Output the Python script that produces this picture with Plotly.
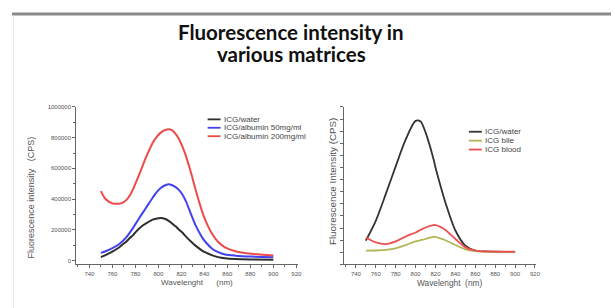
import plotly.graph_objects as go

# ---------------- data ----------------
# Left chart: ICG in water / albumin (CPS)
wl_left = [750, 754, 760, 766, 769, 772, 775, 778, 780, 785, 789, 795, 798, 802, 806, 809, 812, 815, 818, 821, 824, 829, 832, 838, 841, 847, 852, 858, 867, 881, 900]
water_left = [21500, 35000, 58000, 86000, 105000, 122000, 145000, 165000, 183000, 220000, 240000, 266000, 272000, 276000, 270000, 258000, 240000, 222000, 200000, 180000, 155000, 118000, 98000, 64500, 52000, 33000, 21500, 14000, 9000, 6000, 4000]
alb50_left = [49500, 60000, 80000, 107500, 127000, 150000, 180000, 212000, 236500, 295000, 340000, 408600, 440000, 472000, 490000, 497000, 490000, 478000, 458000, 428000, 385000, 290000, 235000, 150500, 120000, 75000, 53800, 38700, 31000, 25000, 21500]
alb200_left = [451600, 400000, 372000, 370000, 377000, 393000, 422000, 465000, 500000, 592000, 668000, 765000, 800000, 833000, 850000, 855000, 848000, 825000, 790000, 740000, 680000, 555000, 470000, 320000, 260000, 170000, 120000, 85000, 60000, 43000, 32000]
names_left = ["ICG/water", "ICG/albumin 50mg/ml", "ICG/albumin 200mg/ml"]
colors_left = ["#2e2e2e", "#4242ee", "#ee4a4a"]

# Right chart: ICG in water / bile / blood (arbitrary units, no tick labels)
wl_right = [750, 760, 770, 780, 790, 800, 805, 810, 818, 820, 825, 830, 840, 850, 860, 870, 880, 890, 900]
water_right = [0.96, 2.6, 4.8, 7.1, 9.3, 10.85, 10.8, 9.9, 7.7, 7.0, 5.5, 4.1, 1.8, 0.55, 0.15, 0.07, 0.05, 0.04, 0.04]
bile_right = [0.14, 0.15, 0.2, 0.33, 0.6, 0.9, 1.0, 1.1, 1.28, 1.28, 1.15, 1.0, 0.6, 0.25, 0.1, 0.05, 0.05, 0.04, 0.04]
blood_right = [1.22, 0.82, 0.68, 0.9, 1.3, 1.64, 1.85, 2.05, 2.25, 2.25, 2.1, 1.84, 1.1, 0.41, 0.14, 0.07, 0.06, 0.05, 0.05]
names_right = ["ICG/water", "ICG bile", "ICG blood"]
colors_right = ["#333333", "#b4b45a", "#ee5050"]

x_ticks = [740, 760, 780, 800, 820, 840, 860, 880, 900, 920]
y_ticks_left = [0, 200000, 400000, 600000, 800000, 1000000]

title_lines = ["Fluorescence intensity in", "various matrices"]

# ---------------- figure ----------------
W, H = 615, 308
fig = go.Figure()

for ys, name, col in zip([water_left, alb50_left, alb200_left], names_left, colors_left):
    fig.add_trace(go.Scatter(x=wl_left, y=ys, name=name, mode="lines",
                             line=dict(color=col, width=2, shape="spline", smoothing=0.8),
                             xaxis="x", yaxis="y", showlegend=False))
for ys, name, col in zip([water_right, bile_right, blood_right], names_right, colors_right):
    fig.add_trace(go.Scatter(x=wl_right, y=ys, name=name, mode="lines",
                             line=dict(color=col, width=1.8, shape="spline", smoothing=0.8),
                             xaxis="x2", yaxis="y2", showlegend=False))

def px_x(v):
    return v / W

def px_y(v):
    return 1 - v / H

axis_col = "#666666"
tick_font = dict(family="Liberation Sans, Arial, sans-serif", size=6, color="#555555")

xcommon = dict(range=[728.5, 921.5], tickvals=x_ticks, ticks="outside", ticklen=3,
               tickcolor=axis_col, showline=True, linecolor=axis_col, linewidth=1,
               showgrid=False, zeroline=False, tickfont=tick_font,
               minor=dict(dtick=10, tick0=730, ticks="outside", ticklen=2, tickcolor=axis_col))

fig.update_layout(
    width=W, height=H,
    margin=dict(l=0, r=0, t=0, b=0),
    paper_bgcolor="white", plot_bgcolor="white",
    xaxis=dict(domain=[px_x(76.7), px_x(300)], anchor="y", **xcommon),
    yaxis=dict(domain=[px_y(264), px_y(105)], anchor="x", range=[-26000, 1000000],
               tickvals=y_ticks_left, tickformat="d", ticks="outside", ticklen=3,
               tickcolor=axis_col, showline=True, linecolor=axis_col, linewidth=1,
               showgrid=False, zeroline=False, tickfont=tick_font,
               minor=dict(dtick=100000, ticks="outside", ticklen=2, tickcolor=axis_col)),
    xaxis2=dict(domain=[px_x(346.7), px_x(540)], anchor="y2", **xcommon),
    yaxis2=dict(domain=[px_y(264), px_y(105)], anchor="x2", range=[-1, 12],
                dtick=1, tick0=0, showticklabels=False, ticks="outside", ticklen=3,
                tickcolor=axis_col, showline=True, linecolor=axis_col, linewidth=1,
                showgrid=False, zeroline=False),
)

shapes = []
annotations = []

# slide decorations: top gray rule and faint left border
shapes.append(dict(type="rect", xref="paper", yref="paper", x0=px_x(12), x1=1,
                   y0=px_y(12.5), y1=px_y(9.5), fillcolor="#8a8a8a", line=dict(width=0)))
shapes.append(dict(type="line", xref="paper", yref="paper", x0=px_x(13.5), x1=px_x(13.5),
                   y0=0, y1=px_y(12.5), line=dict(color="#e4e4e4", width=1)))

# title (two lines)
title_font = dict(family="Lato, Open Sans, sans-serif", size=20.5, color="#111111")
for line_txt, yc in zip(title_lines, [29, 51]):
    annotations.append(dict(text="<b>" + line_txt + "</b>", xref="paper", yref="paper",
                            x=px_x(293), y=px_y(yc), xanchor="center", yanchor="middle",
                            showarrow=False, font=title_font))

# axis titles
ax_font = dict(family="Liberation Sans, Arial, sans-serif", size=8, color="#555555")
annotations.append(dict(text="Fluorescence intensity   (CPS)", xref="paper", yref="paper",
                        x=px_x(31.5), y=px_y(196), textangle=-90, showarrow=False,
                        xanchor="center", yanchor="middle",
                        font=dict(family="Liberation Sans, Arial, sans-serif", size=9, color="#555555")))
annotations.append(dict(text="Wavelenght      (nm)", xref="paper", yref="paper",
                        x=px_x(198), y=px_y(282), showarrow=False,
                        xanchor="center", yanchor="middle", font=ax_font))
annotations.append(dict(text="Fluorescence Intensity (CPS)", xref="paper", yref="paper",
                        x=px_x(334), y=px_y(180), textangle=-90, showarrow=False,
                        xanchor="center", yanchor="middle",
                        font=dict(family="Liberation Sans, Arial, sans-serif", size=9.8, color="#555555")))
annotations.append(dict(text="Wavelenght  (nm)", xref="paper", yref="paper",
                        x=px_x(452.5), y=px_y(283), showarrow=False,
                        xanchor="center", yanchor="middle",
                        font=dict(family="Liberation Sans, Arial, sans-serif", size=8.3, color="#555555")))

# custom legends
leg_font = dict(family="Liberation Sans, Arial, sans-serif", size=8, color="#444444")
def add_legend(names, colors, x_line0, x_line1, x_text, y_rows):
    for nm, col, yy in zip(names, colors, y_rows):
        shapes.append(dict(type="line", xref="paper", yref="paper",
                           x0=px_x(x_line0), x1=px_x(x_line1), y0=px_y(yy), y1=px_y(yy),
                           line=dict(color=col, width=1.8)))
        annotations.append(dict(text=nm, xref="paper", yref="paper", x=px_x(x_text), y=px_y(yy),
                                xanchor="left", yanchor="middle", showarrow=False, font=leg_font))

add_legend(names_left, colors_left, 209, 222, 223.5, [117.5, 126, 134.5])
add_legend(names_right, colors_right, 472, 485, 486.5, [130, 139, 148])

fig.update_layout(shapes=shapes, annotations=annotations)

fig.write_html("out.html", config={"displayModeBar": False},
               post_script="document.body.style.margin='0px';document.body.style.overflow='hidden';")
